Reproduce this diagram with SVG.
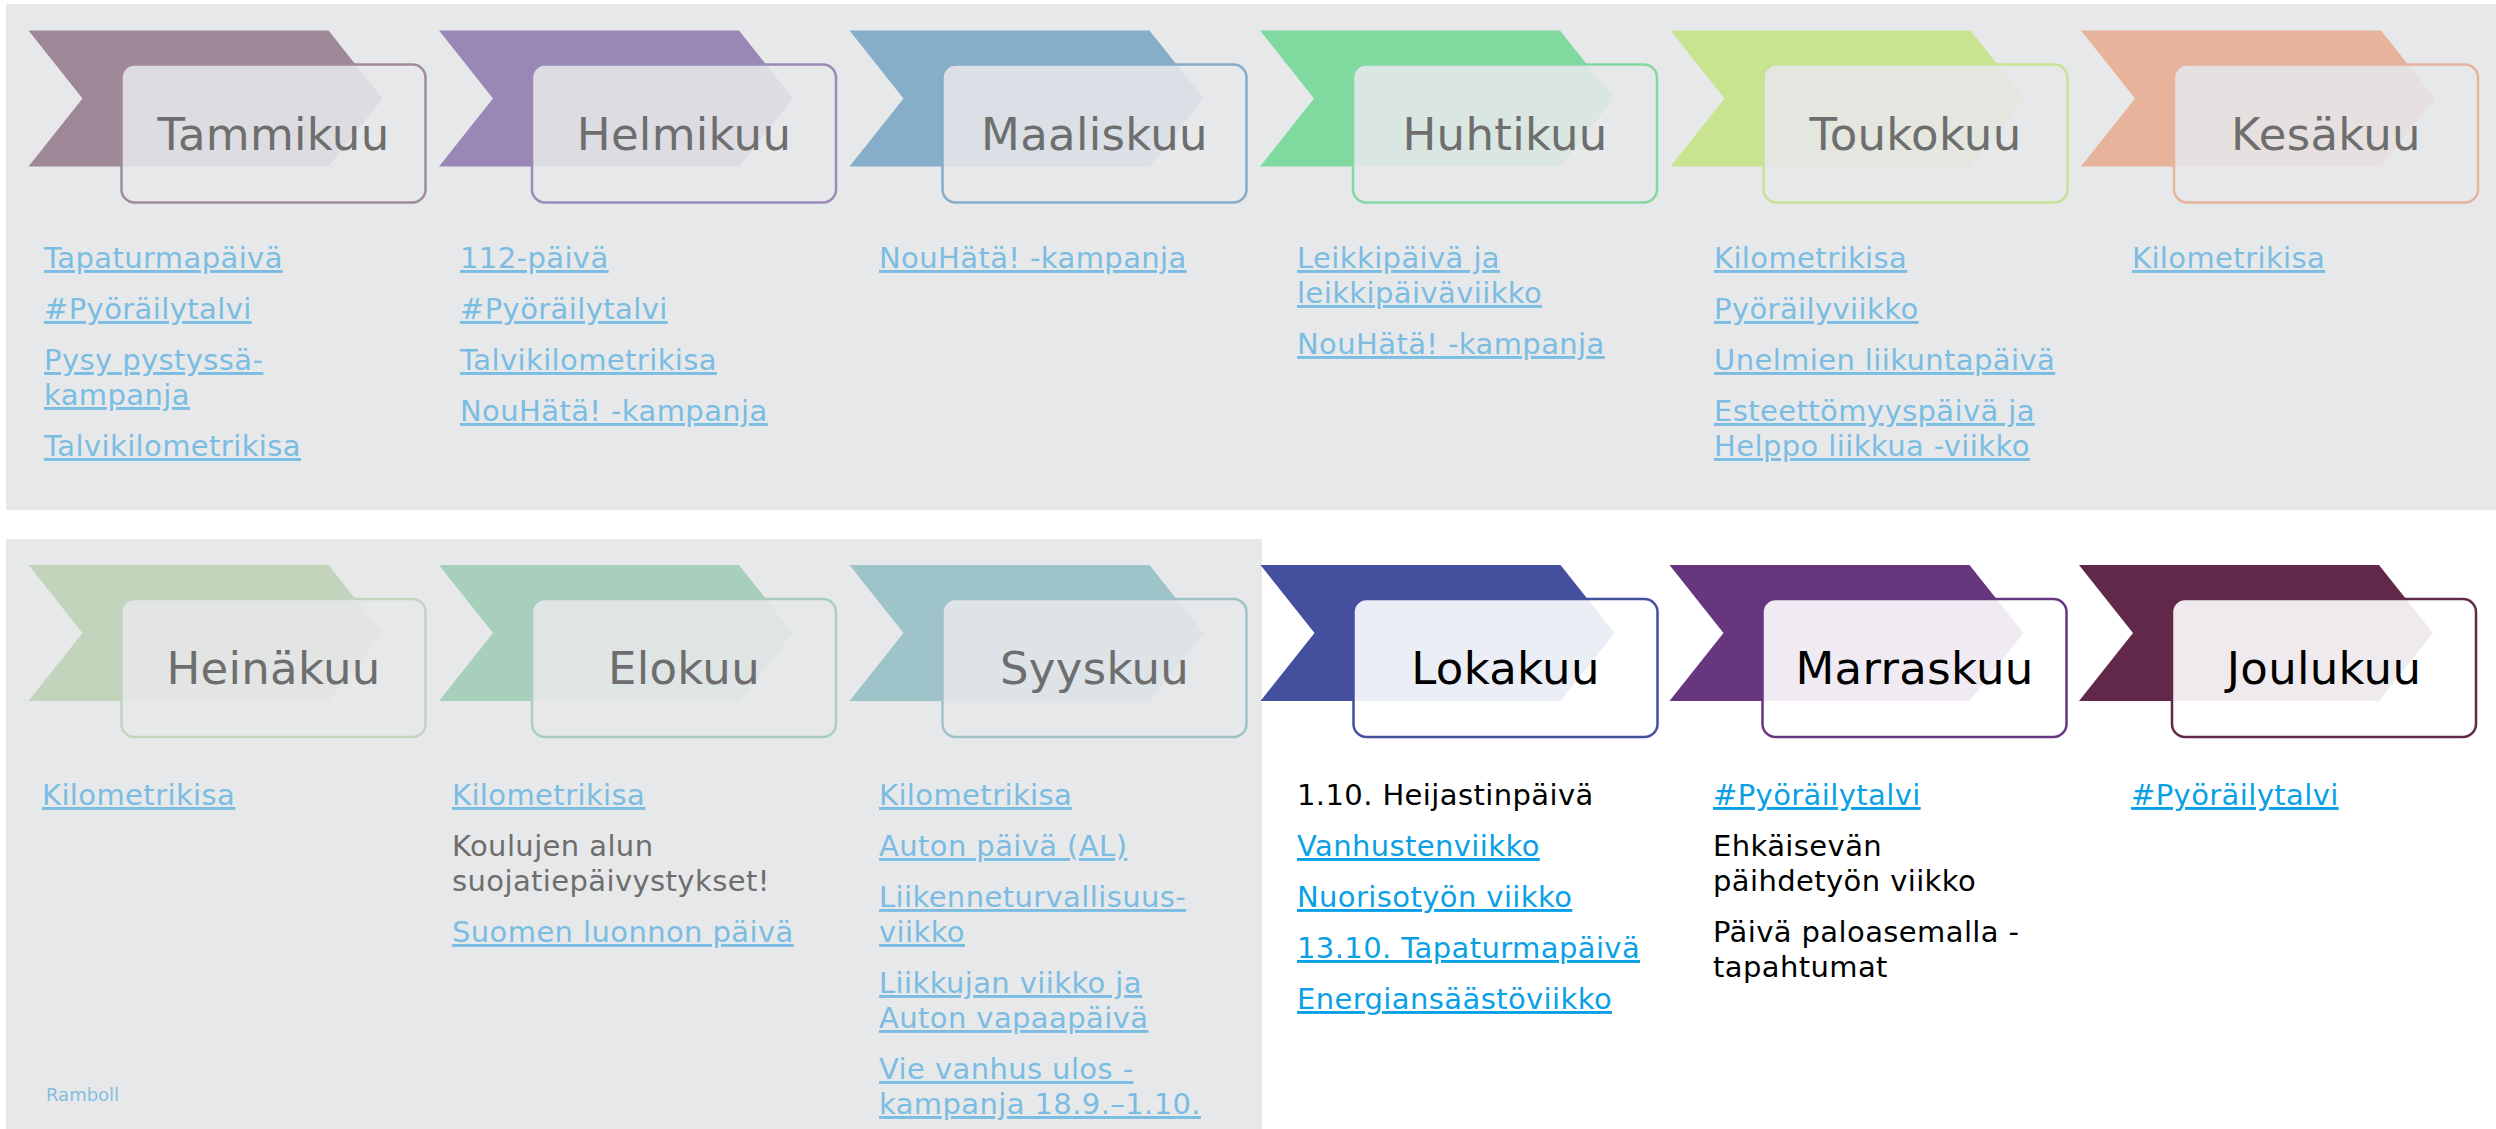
<svg xmlns="http://www.w3.org/2000/svg" xmlns:xlink="http://www.w3.org/1999/xlink" width="2496" height="1129" viewBox="0 0 2496 1129">
<style>
.panel{fill:#E7E8EA}
.boxf{fill:#E6E7E9;fill-opacity:0.88;stroke-width:2.5}
.boxa{fill:#FFFFFF;fill-opacity:0.9;stroke-width:2.5}
.title{font-family:"DejaVu Sans","Liberation Sans",sans-serif;font-size:45px;text-anchor:middle;letter-spacing:0.3px}
.tf{fill:#6E6E6E}
.ta{fill:#000000}
.item{font-family:"DejaVu Sans","Liberation Sans",sans-serif;font-size:29px;letter-spacing:0.4px}
.lf{fill:#7BBDE2;text-decoration:underline}
.la{fill:#0AA0E6;text-decoration:underline}
.pf{fill:#6E6E6E}
.pa{fill:#000000}
.brand{font-family:"DejaVu Sans","Liberation Sans",sans-serif;font-size:18px;fill:#86BEDF}
</style>
<defs>
<path id="chev" d="M0,0 L300,0 L354,68 L300,136 L0,136 L54,68 Z"/>
</defs>
<rect width="2496" height="1129" fill="#FFFFFF"/>
<rect class="panel" x="6" y="4" width="2490" height="506"/>
<rect class="panel" x="6" y="539" width="1256" height="590"/>
<g id="connectors"/>

<g id="tammikuu">
<g transform="translate(28.5,30.5)">
<use xlink:href="#chev" fill="#9E8898"/>
<rect class="boxf" x="93" y="34" width="304" height="138" rx="13" stroke="#A08B99"/>
<text class="title tf" x="245" y="119">Tammikuu</text>
</g>
<text class="item lf" x="44" y="268">Tapaturmapäivä</text>
<text class="item lf" x="44" y="319">#Pyöräilytalvi</text>
<text class="item lf" x="44" y="370">Pysy pystyssä-</text>
<text class="item lf" x="44" y="405">kampanja</text>
<text class="item lf" x="44" y="456">Talvikilometrikisa</text>
</g>

<g id="helmikuu">
<g transform="translate(439,30.5)">
<use xlink:href="#chev" fill="#9988B6"/>
<rect class="boxf" x="93" y="34" width="304" height="138" rx="13" stroke="#9A8AB6"/>
<text class="title tf" x="245" y="119">Helmikuu</text>
</g>
<text class="item lf" x="460" y="268">112-päivä</text>
<text class="item lf" x="460" y="319">#Pyöräilytalvi</text>
<text class="item lf" x="460" y="370">Talvikilometrikisa</text>
<text class="item lf" x="460" y="421">NouHätä! -kampanja</text>
</g>

<g id="maaliskuu">
<g transform="translate(849.5,30.5)">
<use xlink:href="#chev" fill="#86AEC9"/>
<rect class="boxf" x="93" y="34" width="304" height="138" rx="13" stroke="#86ACC8"/>
<text class="title tf" x="245" y="119">Maaliskuu</text>
</g>
<text class="item lf" x="879" y="268">NouHätä! -kampanja</text>
</g>

<g id="huhtikuu">
<g transform="translate(1260,30.5)">
<use xlink:href="#chev" fill="#80DAA0"/>
<rect class="boxf" x="93" y="34" width="304" height="138" rx="13" stroke="#84D8A2"/>
<text class="title tf" x="245" y="119">Huhtikuu</text>
</g>
<text class="item lf" x="1297" y="268">Leikkipäivä ja</text>
<text class="item lf" x="1297" y="303">leikkipäiväviikko</text>
<text class="item lf" x="1297" y="354">NouHätä! -kampanja</text>
</g>

<g id="toukokuu">
<g transform="translate(1670.5,30.5)">
<use xlink:href="#chev" fill="#C8E490"/>
<rect class="boxf" x="93" y="34" width="304" height="138" rx="13" stroke="#C6E294"/>
<text class="title tf" x="245" y="119">Toukokuu</text>
</g>
<text class="item lf" x="1714" y="268">Kilometrikisa</text>
<text class="item lf" x="1714" y="319">Pyöräilyviikko</text>
<text class="item lf" x="1714" y="370">Unelmien liikuntapäivä</text>
<text class="item lf" x="1714" y="421">Esteettömyyspäivä ja</text>
<text class="item lf" x="1714" y="456">Helppo liikkua -viikko</text>
</g>

<g id="kesakuu">
<g transform="translate(2081,30.5)">
<use xlink:href="#chev" fill="#E7B39A"/>
<rect class="boxf" x="93" y="34" width="304" height="138" rx="13" stroke="#E5B39E"/>
<text class="title tf" x="245" y="119">Kesäkuu</text>
</g>
<text class="item lf" x="2132" y="268">Kilometrikisa</text>
</g>

<g id="heinakuu">
<g transform="translate(28.5,565)">
<use xlink:href="#chev" fill="#C2D5BC"/>
<rect class="boxf" x="93" y="34" width="304" height="138" rx="13" stroke="#C3D5BF"/>
<text class="title tf" x="245" y="119">Heinäkuu</text>
</g>
<text class="item lf" x="42" y="805">Kilometrikisa</text>
</g>

<g id="elokuu">
<g transform="translate(439,565)">
<use xlink:href="#chev" fill="#A8CEBC"/>
<rect class="boxf" x="93" y="34" width="304" height="138" rx="13" stroke="#A9CDBE"/>
<text class="title tf" x="245" y="119">Elokuu</text>
</g>
<text class="item lf" x="452" y="805">Kilometrikisa</text>
<text class="item pf" x="452" y="856">Koulujen alun</text>
<text class="item pf" x="452" y="891">suojatiepäivystykset!</text>
<text class="item lf" x="452" y="942">Suomen luonnon päivä</text>
</g>

<g id="syyskuu">
<g transform="translate(849.5,565)">
<use xlink:href="#chev" fill="#9EC3C9"/>
<rect class="boxf" x="93" y="34" width="304" height="138" rx="13" stroke="#9FC2C8"/>
<text class="title tf" x="245" y="119">Syyskuu</text>
</g>
<text class="item lf" x="879" y="805">Kilometrikisa</text>
<text class="item lf" x="879" y="856">Auton päivä (AL)</text>
<text class="item lf" x="879" y="907">Liikenneturvallisuus-</text>
<text class="item lf" x="879" y="942">viikko</text>
<text class="item lf" x="879" y="993">Liikkujan viikko ja</text>
<text class="item lf" x="879" y="1028">Auton vapaapäivä</text>
<text class="item lf" x="879" y="1079">Vie vanhus ulos -</text>
<text class="item lf" x="879" y="1114">kampanja 18.9.–1.10.</text>
</g>

<g id="lokakuu">
<g transform="translate(1260.5,565)">
<use xlink:href="#chev" fill="#444F9D"/>
<rect class="boxa" x="93" y="34" width="304" height="138" rx="13" stroke="#444F9D"/>
<text class="title ta" x="245" y="119">Lokakuu</text>
</g>
<text class="item pa" x="1297" y="805">1.10. Heijastinpäivä</text>
<text class="item la" x="1297" y="856">Vanhustenviikko</text>
<text class="item la" x="1297" y="907">Nuorisotyön viikko</text>
<text class="item la" x="1297" y="958">13.10. Tapaturmapäivä</text>
<text class="item la" x="1297" y="1009">Energiansäästöviikko</text>
</g>

<g id="marraskuu">
<g transform="translate(1669.5,565)">
<use xlink:href="#chev" fill="#66367F"/>
<rect class="boxa" x="93" y="34" width="304" height="138" rx="13" stroke="#66367F"/>
<text class="title ta" x="245" y="119">Marraskuu</text>
</g>
<text class="item la" x="1713" y="805">#Pyöräilytalvi</text>
<text class="item pa" x="1713" y="856">Ehkäisevän</text>
<text class="item pa" x="1713" y="891">päihdetyön viikko</text>
<text class="item pa" x="1713" y="942">Päivä paloasemalla -</text>
<text class="item pa" x="1713" y="977">tapahtumat</text>
</g>

<g id="joulukuu">
<g transform="translate(2079,565)">
<use xlink:href="#chev" fill="#61284A"/>
<rect class="boxa" x="93" y="34" width="304" height="138" rx="13" stroke="#61284A"/>
<text class="title ta" x="245" y="119">Joulukuu</text>
</g>
<text class="item la" x="2131" y="805">#Pyöräilytalvi</text>
</g>

<text class="brand" x="46" y="1101">Ramboll</text>
</svg>
